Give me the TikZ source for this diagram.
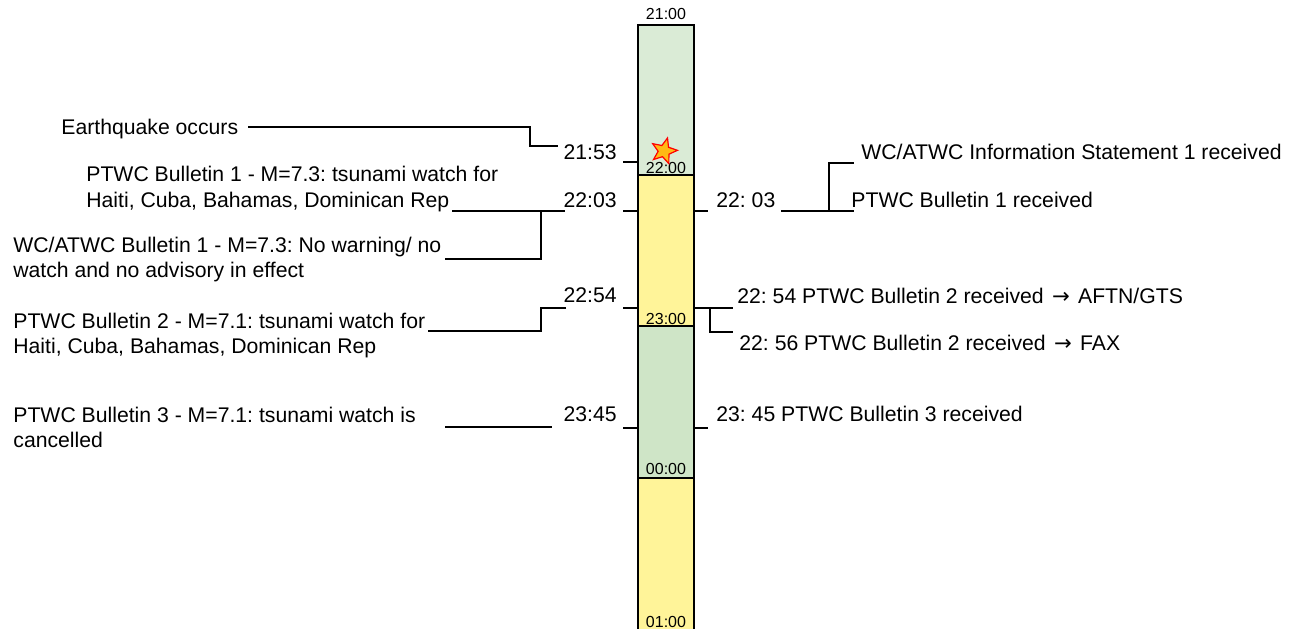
\documentclass[tikz,border=0pt]{standalone}
\usepackage{fontspec}
\setmainfont{Liberation Sans}
\newfontfamily\arrowfont{DejaVu Sans}
\usetikzlibrary{shapes.geometric}
\definecolor{topgreen}{RGB}{218,235,214}
\definecolor{baryellow}{RGB}{255,244,153}
\definecolor{lowgreen}{RGB}{207,229,199}
\definecolor{starfill}{RGB}{255,185,20}
\newcommand{\rarr}{\hspace{1.2pt}{\arrowfont\fontsize{10.6}{12}\selectfont →}\hspace{1.2pt}}
\begin{document}
\frenchspacing
\begin{tikzpicture}[x=0.5pt,y=-0.5pt,
  lbl/.style={font=\fontsize{10.6}{12}\selectfont, inner sep=0, anchor=base west},
  tlbl/.style={font=\fontsize{10.6}{12}\selectfont, inner sep=0, anchor=base east},
  hr/.style={font=\fontsize{8}{10}\selectfont, inner sep=0, anchor=base},
  ln/.style={line width=0.75pt},
  barline/.style={line width=0.9pt}]
\useasboundingbox (0,0) rectangle (1301,628);
\clip (0,0) rectangle (1301,628);
% bar
\fill[topgreen] (638,25) rectangle (694,175);
\fill[baryellow] (638,175) rectangle (694,326);
\fill[lowgreen] (638,326) rectangle (694,478);
\fill[baryellow] (638,478) rectangle (694,660);
\draw[barline] (638,660) -- (638,25) -- (694,25) -- (694,660);
\draw[barline] (638,175) -- (694,175);
\draw[barline] (638,326) -- (694,326);
\draw[barline] (638,478) -- (694,478);
% hour labels
\node[hr] (h21) at (666,19) {21:00};
\node[hr] (h22) at (666,173) {22:00};
\node[hr] (h23) at (666,324) {23:00};
\node[hr] (h00) at (666,474) {00:00};
\node[hr] (h01) at (666,627) {01:00};
% star
\node[star, star points=5, star point ratio=2.3, fill=starfill, draw=red, line width=0.6pt, minimum size=13.5pt, inner sep=0, rotate=-15] (quake) at (664,151) {};
% left texts
\node[lbl] (eq) at (61,134) {Earthquake occurs};
\node[lbl] (pb1a) at (86,181) {PTWC Bulletin 1 - M=7.3: tsunami watch for};
\node[lbl] (pb1b) at (86,207) {Haiti, Cuba, Bahamas, Dominican Rep};
\node[lbl] (wb1a) at (13,252) {WC/ATWC Bulletin 1 - M=7.3: No warning/ no};
\node[lbl] (wb1b) at (13,277) {watch and no advisory in effect};
\node[lbl] (pb2a) at (13,328) {PTWC Bulletin 2 - M=7.1: tsunami watch for};
\node[lbl] (pb2b) at (13,353) {Haiti, Cuba, Bahamas, Dominican Rep};
\node[lbl] (pb3a) at (13,422) {PTWC Bulletin 3 - M=7.1: tsunami watch is};
\node[lbl] (pb3b) at (13,447) {cancelled};
% left times
\node[tlbl] (t2153) at (617,159) {21:53};
\node[tlbl] (t2203) at (617,207) {22:03};
\node[tlbl] (t2254) at (617,302) {22:54};
\node[tlbl] (t2345) at (617,421) {23:45};
% right texts
\node[lbl] (r2203) at (716,207) {22: 03};
\node[lbl] (rwis) at (861,159) {WC/ATWC Information Statement 1 received};
\node[lbl] (rpb1) at (851,207) {PTWC Bulletin 1 received};
\node[lbl] (r2254) at (737,303) {22: 54 PTWC Bulletin 2 received \rarr\ AFTN/GTS};
\node[lbl] (r2256) at (739,350) {22: 56 PTWC Bulletin 2 received \rarr\ FAX};
\node[lbl] (r2345) at (716,421) {23: 45 PTWC Bulletin 3 received};
% coordinates
\coordinate (a1) at (248,127); \coordinate (a2) at (530,127);
\coordinate (a3) at (530,146); \coordinate (a4) at (558,146);
\coordinate (b1) at (452,211); \coordinate (b2) at (565,211);
\coordinate (b3) at (541,211); \coordinate (b4) at (541,259);
\coordinate (b5) at (445,259);
\coordinate (c1) at (566,308); \coordinate (c2) at (541,308);
\coordinate (c3) at (541,331); \coordinate (c4) at (428,331);
\coordinate (d1) at (445,427); \coordinate (d2) at (552,427);
\foreach \y/\n in {162/k1,211/k2,308/k3,428/k4}{
  \coordinate (\n L) at (623,\y); \coordinate (\n R) at (638,\y);}
\coordinate (m2L) at (694,211); \coordinate (m2R) at (708,211);
\coordinate (m4L) at (694,428); \coordinate (m4R) at (708,428);
\coordinate (m3L) at (694,308); \coordinate (m3R) at (733,308);
\coordinate (m3a) at (710,308); \coordinate (m3b) at (710,332); \coordinate (m3c) at (733,332);
\coordinate (e1) at (781,211); \coordinate (e2) at (854,211);
\coordinate (e3) at (829,211); \coordinate (e4) at (829,163); \coordinate (e5) at (854,163);
% connectors
\draw[ln] (a1) -- (a2) -- (a3) -- (a4);
\draw[ln] (b1) -- (b2);
\draw[ln] (b3) -- (b4) -- (b5);
\draw[ln] (c1) -- (c2) -- (c3) -- (c4);
\draw[ln] (d1) -- (d2);
\foreach \n in {k1,k2,k3,k4,m2,m4,m3}{\draw[ln] (\n L) -- (\n R);}
\draw[ln] (m3a) -- (m3b) -- (m3c);
\draw[ln] (e1) -- (e2);
\draw[ln] (e3) -- (e4) -- (e5);
\end{tikzpicture}
\end{document}
